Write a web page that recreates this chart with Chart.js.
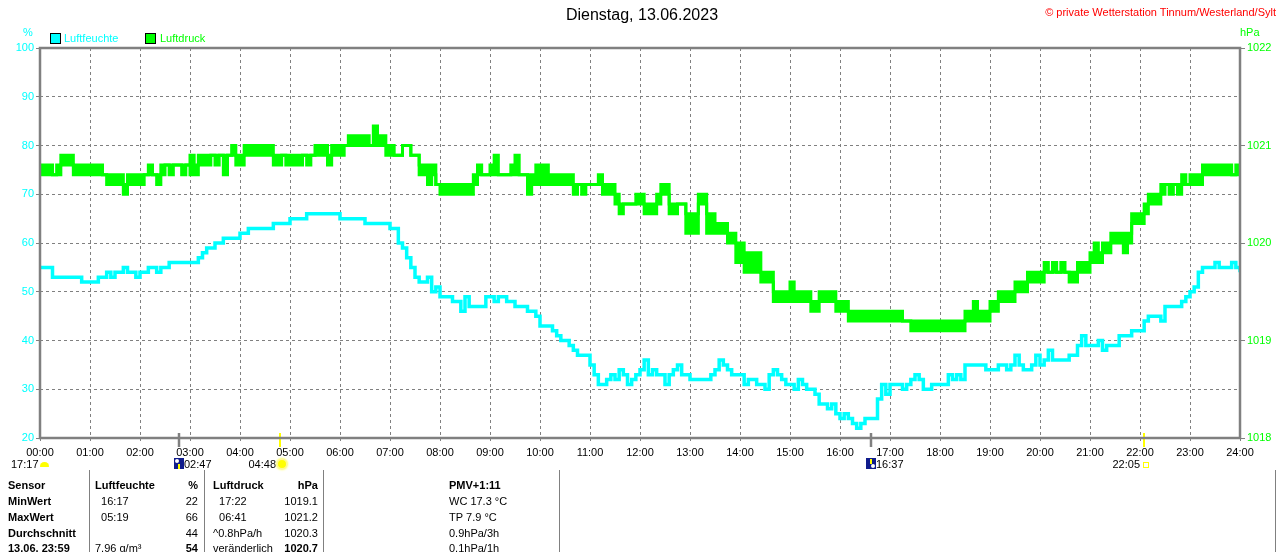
<!DOCTYPE html>
<html>
<head>
<meta charset="utf-8">
<script src="https://cdn.jsdelivr.net/npm/chart.js@4.4.1/dist/chart.umd.min.js"></script>
<style>
  html, body { margin: 0; padding: 0; background: #ffffff; overflow: hidden; }
  #wrap { position: relative; width: 1280px; height: 552px; font-family: "Liberation Sans", Arial, sans-serif; font-size: 11px; color: #000; }
  #chart { position: absolute; left: 0; top: 0; }
  .t { position: absolute; white-space: nowrap; line-height: 14px; }
  .b { font-weight: bold; }
  .r { text-align: right; }
  .sep { position: absolute; top: 470px; width: 1px; height: 82px; background: #808080; }
  .legbox { position: absolute; width: 9px; height: 9px; border: 1px solid #000; }
  .moon { position: absolute; width: 10px; height: 11px; background: #101c8c; overflow: hidden; }
  .moon .dot { position: absolute; left: 1px; top: 1px; width: 4px; height: 4px; border-radius: 50%; background: #fff; }
  .moon .arr { position: absolute; left: 4px; width: 2px; height: 5px; background: #ffff00; }
  .sun { position: absolute; width: 8px; height: 8px; border-radius: 50%; background: #ffff00; box-shadow: 0 0 0 1px #fff6a0, 0 0 2px 2px #ffff60; }
  .cloud { position: absolute; width: 9px; height: 5px; border-radius: 5px 5px 1px 1px; background: #ffff00; }
  .sq { position: absolute; width: 4px; height: 4px; border: 1px solid #ffff00; }
</style>
</head>
<body>
<div id="wrap">
  <canvas id="chart" width="1280" height="470"></canvas>

  <div class="t" style="left:0; width:1284px; top:6px; text-align:center; font-size:16px; line-height:18px;">Dienstag, 13.06.2023</div>
  <div class="t" style="right:4px; top:5px; color:#ff0000;">© private Wetterstation Tinnum/Westerland/Sylt</div>

  <div class="t" style="left:23px; top:25px; color:#00ffff;">%</div>
  <div class="t" style="left:1240px; top:25px; color:#00ff00;">hPa</div>

  <div class="legbox" style="left:50px; top:33px; background:#00ffff;"></div>
  <div class="t" style="left:64px; top:31px; color:#00ffff;">Luftfeuchte</div>
  <div class="legbox" style="left:145px; top:33px; background:#00ff00;"></div>
  <div class="t" style="left:160px; top:31px; color:#00ff00;">Luftdruck</div>

  <div id="events"></div>

  <div class="sep" style="left:89px;"></div>
  <div class="sep" style="left:204px;"></div>
  <div class="sep" style="left:323px;"></div>
  <div class="sep" style="left:559px;"></div>
  <div class="sep" style="left:1275px;"></div>

  <div id="table"></div>
</div>

<script>
// ---------- data ----------
const humidityStepMinutes = 5;
const humidity = [
  55,55,55,53,53,53,53,53,53,53,52,52,
  52,52,53,53,54,53,54,54,55,54,54,53,
  54,54,55,55,54,55,55,56,56,56,56,56,
  56,56,57,58,59,59,60,60,61,61,61,61,
  62,62,63,63,63,63,63,63,64,64,64,64,
  65,65,65,65,66,66,66,66,66,66,66,66,
  65,65,65,65,65,65,64,64,64,64,64,64,
  63,63,60,59,57,55,53,52,52,53,50,51,
  49,49,49,48,48,46,49,47,47,47,47,49,
  49,48,49,49,48,48,47,47,47,46,46,45,
  43,43,43,42,41,40,40,39,38,37,37,37,
  35,33,31,31,32,33,32,34,33,31,32,33,
  34,36,33,34,33,33,31,33,34,35,33,33,
  32,32,32,32,32,33,34,36,35,34,33,33,
  33,31,32,32,31,31,30,33,34,33,32,31,
  31,30,32,31,30,30,29,27,27,26,27,25,
  24,25,24,23,22,23,24,24,24,28,31,29,
  31,31,31,30,31,32,33,32,30,30,31,31,
  31,31,33,32,33,32,35,35,35,35,35,34,
  34,34,35,35,34,35,37,35,34,34,35,37,
  35,36,38,36,36,36,36,37,37,39,41,39,
  39,39,40,38,39,39,39,41,41,41,42,42,
  42,44,45,45,45,44,47,47,47,47,48,49,
  50,51,54,55,55,55,56,55,55,55,56,55,
  54
];

// pressure fluctuates quickly between two 0.1 hPa levels: upper and lower edge of the trace, every 5 minutes
const pressureStepMinutes = 5;
const pressureHigh = [
  1020.8,1020.8,1020.8,1020.7,1020.8,1020.9,1020.9,1020.9,1020.8,1020.8,1020.8,1020.8,
  1020.8,1020.8,1020.8,1020.7,1020.7,1020.7,1020.7,1020.7,1020.6,1020.7,1020.7,1020.7,
  1020.7,1020.7,1020.8,1020.7,1020.7,1020.8,1020.8,1020.8,1020.8,1020.8,1020.8,1020.8,
  1020.9,1020.8,1020.9,1020.9,1020.9,1020.9,1020.9,1020.9,1020.9,1020.9,1021.0,1020.9,
  1020.9,1021.0,1021.0,1021.0,1021.0,1021.0,1021.0,1021.0,1020.9,1020.9,1020.9,1020.9,
  1020.9,1020.9,1020.9,1020.9,1020.9,1020.9,1021.0,1021.0,1021.0,1020.9,1021.0,1021.0,
  1021.0,1021.0,1021.1,1021.1,1021.1,1021.1,1021.1,1021.0,1021.2,1021.1,1021.1,1021.0,
  1021.0,1020.9,1020.9,1021.0,1021.0,1020.9,1020.9,1020.8,1020.8,1020.8,1020.8,1020.6,
  1020.6,1020.6,1020.6,1020.6,1020.6,1020.6,1020.6,1020.6,1020.7,1020.8,1020.7,1020.7,
  1020.8,1020.9,1020.7,1020.7,1020.7,1020.8,1020.9,1020.7,1020.7,1020.7,1020.7,1020.8,
  1020.8,1020.8,1020.7,1020.7,1020.7,1020.7,1020.7,1020.7,1020.6,1020.6,1020.6,1020.6,
  1020.6,1020.6,1020.7,1020.6,1020.6,1020.6,1020.5,1020.4,1020.4,1020.4,1020.4,1020.5,
  1020.5,1020.4,1020.4,1020.4,1020.5,1020.6,1020.6,1020.4,1020.4,1020.4,1020.4,1020.3,
  1020.3,1020.3,1020.5,1020.5,1020.3,1020.3,1020.2,1020.2,1020.2,1020.1,1020.1,1020.0,
  1020.0,1019.9,1019.9,1019.9,1019.9,1019.7,1019.7,1019.7,1019.5,1019.5,1019.5,1019.5,
  1019.6,1019.5,1019.5,1019.5,1019.5,1019.4,1019.4,1019.5,1019.5,1019.5,1019.5,1019.4,
  1019.4,1019.4,1019.3,1019.3,1019.3,1019.3,1019.3,1019.3,1019.3,1019.3,1019.3,1019.3,
  1019.3,1019.3,1019.3,1019.2,1019.2,1019.2,1019.2,1019.2,1019.2,1019.2,1019.2,1019.2,
  1019.2,1019.2,1019.2,1019.2,1019.2,1019.2,1019.3,1019.3,1019.4,1019.3,1019.3,1019.3,
  1019.4,1019.4,1019.5,1019.5,1019.5,1019.5,1019.6,1019.6,1019.6,1019.7,1019.7,1019.7,
  1019.7,1019.8,1019.7,1019.8,1019.7,1019.8,1019.7,1019.7,1019.7,1019.8,1019.8,1019.8,
  1019.9,1020.0,1019.9,1020.0,1020.0,1020.1,1020.1,1020.1,1020.1,1020.1,1020.3,1020.3,
  1020.3,1020.4,1020.5,1020.5,1020.5,1020.6,1020.6,1020.6,1020.6,1020.6,1020.7,1020.6,
  1020.7,1020.7,1020.7,1020.8,1020.8,1020.8,1020.8,1020.8,1020.8,1020.8,1020.7,1020.8,
  1020.8
];
const pressureLow = [
  1020.7,1020.7,1020.7,1020.7,1020.7,1020.8,1020.8,1020.8,1020.7,1020.7,1020.7,1020.7,
  1020.7,1020.7,1020.7,1020.7,1020.6,1020.6,1020.6,1020.6,1020.5,1020.6,1020.6,1020.6,
  1020.6,1020.7,1020.7,1020.7,1020.6,1020.7,1020.8,1020.7,1020.8,1020.8,1020.7,1020.8,
  1020.7,1020.7,1020.8,1020.8,1020.8,1020.9,1020.8,1020.9,1020.7,1020.9,1020.9,1020.8,
  1020.8,1020.9,1020.9,1020.9,1020.9,1020.9,1020.9,1020.9,1020.8,1020.8,1020.9,1020.8,
  1020.8,1020.8,1020.8,1020.9,1020.8,1020.9,1020.9,1020.9,1020.9,1020.8,1020.9,1020.9,
  1020.9,1021.0,1021.0,1021.0,1021.0,1021.0,1021.0,1021.0,1021.0,1021.0,1021.0,1020.9,
  1020.9,1020.9,1020.9,1021.0,1021.0,1020.9,1020.9,1020.7,1020.7,1020.6,1020.7,1020.6,
  1020.5,1020.5,1020.5,1020.5,1020.5,1020.5,1020.5,1020.5,1020.6,1020.7,1020.7,1020.7,
  1020.7,1020.7,1020.7,1020.7,1020.7,1020.7,1020.7,1020.7,1020.7,1020.5,1020.6,1020.6,
  1020.6,1020.6,1020.6,1020.6,1020.6,1020.6,1020.6,1020.6,1020.5,1020.6,1020.5,1020.6,
  1020.6,1020.6,1020.6,1020.5,1020.5,1020.5,1020.4,1020.3,1020.4,1020.4,1020.4,1020.4,
  1020.4,1020.3,1020.3,1020.3,1020.4,1020.5,1020.5,1020.3,1020.3,1020.4,1020.4,1020.1,
  1020.1,1020.1,1020.4,1020.4,1020.1,1020.1,1020.1,1020.1,1020.1,1020.0,1020.0,1019.8,
  1019.8,1019.7,1019.7,1019.7,1019.7,1019.6,1019.6,1019.6,1019.4,1019.4,1019.4,1019.4,
  1019.4,1019.4,1019.4,1019.4,1019.4,1019.3,1019.3,1019.4,1019.4,1019.4,1019.4,1019.3,
  1019.3,1019.3,1019.2,1019.2,1019.2,1019.2,1019.2,1019.2,1019.2,1019.2,1019.2,1019.2,
  1019.2,1019.2,1019.2,1019.2,1019.2,1019.1,1019.1,1019.1,1019.1,1019.1,1019.1,1019.1,
  1019.1,1019.1,1019.1,1019.1,1019.1,1019.1,1019.2,1019.2,1019.2,1019.2,1019.2,1019.2,
  1019.3,1019.3,1019.4,1019.4,1019.4,1019.4,1019.5,1019.5,1019.5,1019.6,1019.6,1019.6,
  1019.6,1019.7,1019.7,1019.7,1019.7,1019.7,1019.7,1019.6,1019.6,1019.7,1019.7,1019.7,
  1019.8,1019.8,1019.8,1019.9,1019.9,1020.0,1020.0,1020.0,1019.9,1020.0,1020.2,1020.2,
  1020.2,1020.3,1020.4,1020.4,1020.4,1020.5,1020.6,1020.5,1020.6,1020.5,1020.6,1020.6,
  1020.6,1020.6,1020.6,1020.7,1020.7,1020.7,1020.7,1020.7,1020.7,1020.7,1020.7,1020.7,
  1020.7
];

const hourLabels = ['00:00','01:00','02:00','03:00','04:00','05:00','06:00','07:00','08:00','09:00','10:00','11:00','12:00',
                    '13:00','14:00','15:00','16:00','17:00','18:00','19:00','20:00','21:00','22:00','23:00','24:00'];
const humidityTicks = ['20','30','40','50','60','70','80','90','100'];
const pressureTicks = ['1018','1019','1020','1021','1022'];

// sun / moon events (minutes after midnight)
const eventMinutes = [167, 288, 997, 1325];
const eventLabels  = ['02:47', '04:48', '16:37', '22:05'];
const eventKinds   = ['moonrise', 'sunrise', 'moonset', 'sunset'];
const previousEventLabel = '17:17';

// table
const tableRows = [
  ['Sensor', 'Luftfeuchte', '%', 'Luftdruck', 'hPa', 'PMV+1:11'],
  ['MinWert', '  16:17', '22', '  17:22', '1019.1', 'WC 17.3 °C'],
  ['MaxWert', '  05:19', '66', '  06:41', '1021.2', 'TP 7.9 °C'],
  ['Durchschnitt', '', '44', '^0.8hPa/h', '1020.3', '0.9hPa/3h'],
  ['13.06. 23:59', '7.96 g/m³', '54', 'veränderlich', '1020.7', '0.1hPa/1h']
];

// ---------- chart ----------
Chart.defaults.font.family = "'Liberation Sans', Arial, sans-serif";
Chart.defaults.font.size = 11;

const GRID = '#808080';
const GREEN = '#00ff00';
const CYAN = '#00ffff';

const framePlugin = {
  id: 'frame',
  afterDatasetsDraw(chart) {
    const { ctx, chartArea: a } = chart;
    const xs = chart.scales.x;
    ctx.save();
    eventMinutes.forEach((m, i) => {
      const px = Math.round(xs.getPixelForValue(m));
      const moon = eventKinds[i].startsWith('moon');
      ctx.strokeStyle = moon ? GRID : '#ffff00';
      ctx.lineWidth = moon ? 2.5 : 2;
      ctx.beginPath();
      ctx.moveTo(px, a.bottom - 5);
      ctx.lineTo(px, a.bottom + 9);
      ctx.stroke();
    });
    ctx.strokeStyle = GRID;
    ctx.lineWidth = 2.5;
    ctx.strokeRect(a.left, a.top, a.right - a.left, a.bottom - a.top);
    ctx.restore();
  }
};

const toPoints = (arr, step) => arr.map((v, i) => ({ x: i * step, y: v }));

const chart = new Chart(document.getElementById('chart'), {
  type: 'line',
  data: {
    datasets: [
      {
        label: 'Luftdruck',
        data: toPoints(pressureHigh, pressureStepMinutes),
        yAxisID: 'y2',
        borderColor: GREEN,
        borderWidth: 3,
        pointRadius: 0,
        stepped: true,
        fill: false
      },
      {
        label: 'Luftdruck (unten)',
        data: toPoints(pressureLow, pressureStepMinutes),
        yAxisID: 'y2',
        borderColor: GREEN,
        backgroundColor: GREEN,
        borderWidth: 3,
        pointRadius: 0,
        stepped: true,
        fill: '-1'
      },
      {
        label: 'Luftfeuchte',
        data: toPoints(humidity, humidityStepMinutes),
        yAxisID: 'y',
        borderColor: CYAN,
        borderWidth: 3.5,
        pointRadius: 0,
        stepped: true,
        fill: false
      }
    ]
  },
  options: {
    responsive: false,
    animation: false,
    devicePixelRatio: 1,
    layout: { padding: { top: 48, left: 0, right: 0, bottom: 0 } },
    plugins: { legend: { display: false }, tooltip: { enabled: false }, title: { display: false } },
    scales: {
      x: {
        type: 'linear',
        min: 0,
        max: 1440,
        afterFit(s) { s.height = 32; },
        ticks: {
          stepSize: 60,
          autoSkip: false,
          maxRotation: 0,
          color: '#000000',
          padding: 5,
          callback: (v, i) => hourLabels[i]
        },
        grid: { color: GRID, lineWidth: 1, tickLength: 3, drawTicks: true },
        border: { display: false, dash: [3, 3] }
      },
      y: {
        position: 'left',
        min: 20,
        max: 100,
        afterFit(s) { s.width = 40; },
        ticks: { stepSize: 10, color: CYAN, padding: 2, callback: (v, i) => humidityTicks[i] },
        grid: { color: GRID, lineWidth: 1, tickLength: 4, drawTicks: true },
        border: { display: false, dash: [3, 3] }
      },
      y2: {
        position: 'right',
        min: 1018,
        max: 1022,
        afterFit(s) { s.width = 40; },
        ticks: { stepSize: 1, color: GREEN, padding: 2, callback: (v, i) => pressureTicks[i] },
        grid: { drawOnChartArea: false, color: GRID, lineWidth: 1, tickLength: 5, drawTicks: true },
        border: { display: false }
      }
    }
  },
  plugins: [framePlugin]
});

// ---------- event labels below the axis ----------
(function () {
  const host = document.getElementById('events');
  const xs = chart.scales.x;
  const top = 458;
  function add(html) { host.insertAdjacentHTML('beforeend', html); }
  add(`<div class="t" style="left:11px; top:${top - 1}px;">${previousEventLabel}</div>`);
  add(`<div class="cloud" style="left:40px; top:${top + 4}px;"></div>`);
  eventMinutes.forEach((m, i) => {
    const px = Math.round(xs.getPixelForValue(m));
    const kind = eventKinds[i];
    if (kind === 'moonrise' || kind === 'moonset') {
      const arrTop = kind === 'moonrise' ? 6 : 1;
      add(`<div class="moon" style="left:${px - 5}px; top:${top}px;"><div class="dot" style="${kind === 'moonset' ? 'left:5px;top:6px;' : ''}"></div><div class="arr" style="top:${arrTop}px;"></div></div>`);
      add(`<div class="t" style="left:${px + 5}px; top:${top - 1}px;">${eventLabels[i]}</div>`);
    } else {
      add(`<div class="t r" style="right:${1280 - (px - 4)}px; top:${top - 1}px;">${eventLabels[i]}</div>`);
      if (kind === 'sunrise') add(`<div class="sun" style="left:${px - 2}px; top:${top + 2}px;"></div>`);
      else add(`<div class="sq" style="left:${px - 1}px; top:${top + 4}px;"></div>`);
    }
  });
})();

// ---------- table ----------
(function () {
  const host = document.getElementById('table');
  const rowY = [478, 494, 510, 526, 541];
  const cols = [
    { left: 8 },
    { left: 95 },
    { right: 198 },
    { left: 213 },
    { right: 318 },
    { left: 449 }
  ];
  tableRows.forEach((row, r) => {
    row.forEach((txt, c) => {
      if (!txt) return;
      const bold = c === 0 || r === 0 || (r === 4 && (c === 2 || c === 4));
      const col = cols[c];
      const pos = col.left !== undefined ? `left:${col.left}px;` : `right:${1280 - col.right}px;`;
      const safe = txt.replace(/ /g, '&nbsp;');
      host.insertAdjacentHTML('beforeend',
        `<div class="t${bold ? ' b' : ''}" style="${pos} top:${rowY[r]}px;">${safe}</div>`);
    });
  });
})();
</script>
</body>
</html>
